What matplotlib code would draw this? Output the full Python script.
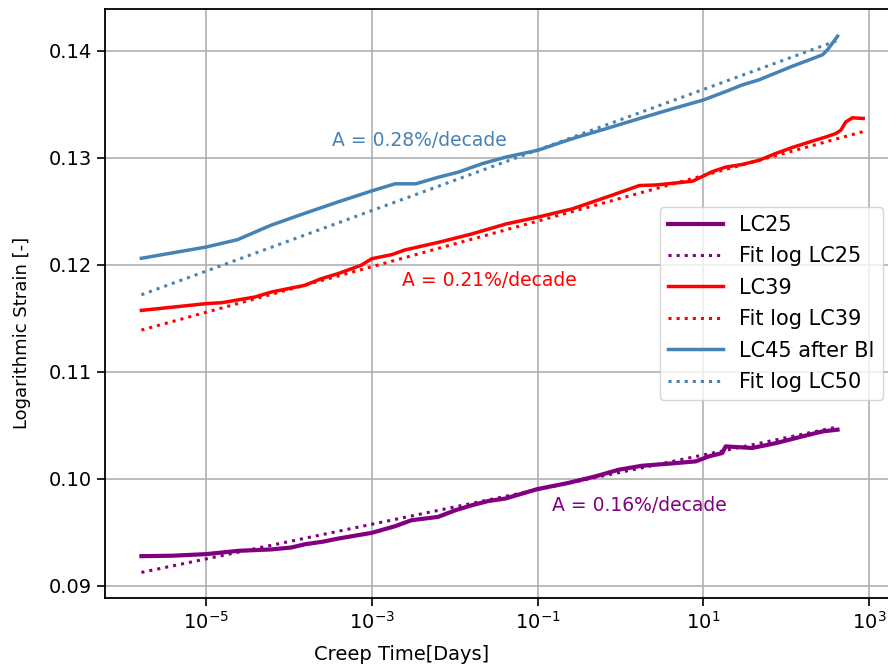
import matplotlib
matplotlib.use('Agg')
import matplotlib.pyplot as plt
from matplotlib.ticker import NullLocator

# LC25 creep curve (time in days, log strain)
t_lc25 = [1.66e-6, 3.89e-6, 1.0e-5, 2.45e-5, 6.17e-5, 1.07e-4, 1.58e-4, 2.51e-4,
          3.98e-4, 1.0e-3, 1.91e-3, 3.02e-3, 6.31e-3, 1.02e-2, 1.62e-2, 2.57e-2,
          4.07e-2, 0.1, 0.234, 0.501, 0.955, 1.82, 3.80, 8.13, 11.7, 17.0, 18.6,
          38.9, 75.9, 158.0, 275.0, 417.0]
e_lc25 = [0.09276, 0.09280, 0.09295, 0.09326, 0.09339, 0.09357, 0.09388, 0.09410,
          0.09441, 0.09494, 0.09556, 0.09612, 0.09643, 0.09705, 0.09752, 0.09792,
          0.09814, 0.09903, 0.09960, 0.10022, 0.10084, 0.10121, 0.10140, 0.10162,
          0.10209, 0.10240, 0.10302, 0.10287, 0.10333, 0.10396, 0.10442, 0.10458]

# LC39
t_lc39 = [1.66e-6, 1.0e-5, 1.55e-5, 3.89e-5, 6.17e-5, 1.55e-4, 2.45e-4, 3.89e-4,
          7.41e-4, 1.0e-3, 1.74e-3, 2.51e-3, 6.46e-3, 1.62e-2, 4.17e-2, 0.1, 0.263,
          0.676, 1.70, 2.69, 4.37, 7.41, 12.9, 18.6, 29.5, 46.8, 74.1, 117.0, 191.0,
          302.0, 398.0, 457.0, 525.0, 631.0, 851.0]
e_lc39 = [0.11573, 0.11636, 0.11645, 0.11698, 0.11745, 0.11807, 0.11869, 0.11916,
          0.11994, 0.12056, 0.12094, 0.12138, 0.12210, 0.12288, 0.12381, 0.12444,
          0.12522, 0.12631, 0.12740, 0.12745, 0.12762, 0.12780, 0.12870, 0.12912,
          0.12937, 0.12975, 0.13038, 0.13094, 0.13147, 0.13194, 0.13226, 0.13257,
          0.13335, 0.13373, 0.13367]

# LC45 after BI
t_lc45 = [1.66e-6, 1.0e-5, 2.40e-5, 6.03e-5, 1.51e-4, 3.89e-4, 1.0e-3, 1.91e-3,
          3.39e-3, 6.46e-3, 1.12e-2, 2.14e-2, 4.17e-2, 0.1, 0.263, 0.676, 1.70,
          4.37, 10.0, 18.6, 29.5, 46.8, 74.1, 117.0, 191.0, 275.0, 316.0, 363.0,
          417.0]
e_lc45 = [0.12060, 0.12165, 0.12234, 0.12368, 0.12477, 0.12586, 0.12690, 0.12756,
          0.12756, 0.12819, 0.12866, 0.12944, 0.13006, 0.13069, 0.13178, 0.13272,
          0.13366, 0.13460, 0.13539, 0.13618, 0.13680, 0.13727, 0.13790, 0.13853,
          0.13915, 0.13962, 0.14009, 0.14072, 0.14135]

# log fits (straight lines on the semilog axes -> end points)
fit_t_lc25 = [1.66e-6, 417.0]
fit_e_lc25 = [0.09124, 0.10484]
fit_t_lc39 = [1.66e-6, 851.0]
fit_e_lc39 = [0.11389, 0.13244]
fit_t_lc50 = [1.66e-6, 417.0]
fit_e_lc50 = [0.11719, 0.14096]

fig = plt.figure(figsize=(8.88, 6.68), dpi=100)
ax = fig.add_axes([105 / 888, 1 - 598 / 668, (901 - 105) / 888, (598 - 9.3) / 668])

ax.plot(t_lc25, e_lc25, color='purple', lw=3, label='LC25')
ax.plot(fit_t_lc25, fit_e_lc25, color='purple', lw=2.2, ls=':', label='Fit log LC25')
ax.plot(t_lc39, e_lc39, color='red', lw=2.5, label='LC39')
ax.plot(fit_t_lc39, fit_e_lc39, color='red', lw=2.2, ls=':', label='Fit log LC39')
ax.plot(t_lc45, e_lc45, color='steelblue', lw=2.5, label='LC45 after Bl')
ax.plot(fit_t_lc50, fit_e_lc50, color='steelblue', lw=2.2, ls=':', label='Fit log LC50')

ax.set_xscale('log')
ax.set_xlim(10 ** -6.219, 10 ** 3.386)
ax.set_ylim(0.08885, 0.14387)
ax.set_xticks([1e-5, 1e-3, 1e-1, 1e1, 1e3])
ax.xaxis.set_minor_locator(NullLocator())
ax.set_yticks([0.09, 0.10, 0.11, 0.12, 0.13, 0.14])
ax.tick_params(labelsize=14, length=6, width=1.2)
ax.grid(True, lw=1.2)
for s in ax.spines.values():
    s.set_linewidth(1.3)

# annotations with the creep rate
ax.text(3.3e-4, 0.13165, 'A = 0.28%/decade', color='steelblue', fontsize=13.5, va='center')
ax.text(2.33e-3, 0.11848, 'A = 0.21%/decade', color='red', fontsize=13.5, va='center')
ax.text(0.148, 0.09745, 'A = 0.16%/decade', color='purple', fontsize=13.5, va='center')

ax.set_xlabel('Creep Time[Days]', fontsize=14)
ax.xaxis.set_label_coords((401.5 - 105) / (901 - 105), -(655 - 598) / (598 - 9.3))
ax.xaxis.label.set_va('center')
ax.set_ylabel('Logarithmic Strain [-]', fontsize=13)
ax.yaxis.set_label_coords(-(105 - 22) / (901 - 105), (598 - 333) / (598 - 9.3))
ax.yaxis.label.set_va('center')

ax.legend(loc='center right', fontsize=15, handlelength=2.6, labelspacing=0.55,
          bbox_to_anchor=(883 / 888, 1 - 303.5 / 668), bbox_transform=fig.transFigure,
          borderaxespad=0)

plt.savefig('out.png')
